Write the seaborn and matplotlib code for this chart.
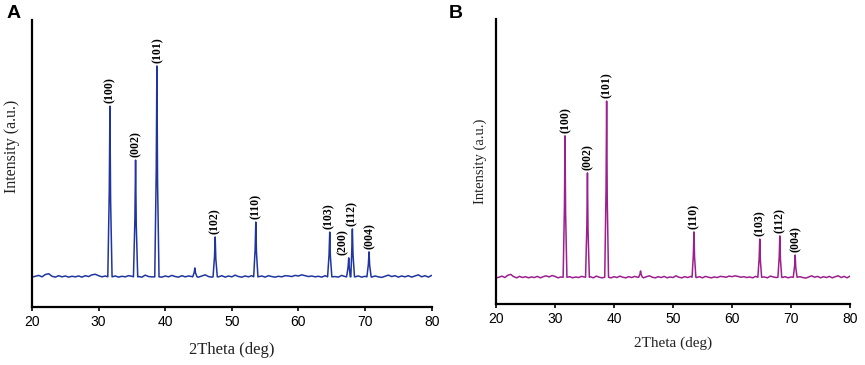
"""Two-panel XRD patterns (A: blue, B: purple) with indexed reflections."""
import matplotlib
matplotlib.use("Agg")
import matplotlib.pyplot as plt
import numpy as np
import pandas as pd
import seaborn as sns

# --- panel A -------------------------------------------------------------
base_a = [104, 107, 110, 105, 113, 116, 107, 104, 109, 105,
          108, 104, 107, 105, 108, 104, 109, 106, 112, 114,
          109, 105, 108, 106, 105, 108, 104, 107, 105, 109,
          107, 106, 106, 104, 111, 106, 105, 110, 106, 104,
          108, 105, 110, 106, 104, 109, 105, 108, 106, 106,
          104, 108, 112, 106, 104, 106, 105, 109, 104, 108,
          105, 111, 106, 104, 108, 105, 109, 106, 105, 108,
          104, 109, 106, 104, 107, 105, 109, 108, 106, 110,
          108, 112, 109, 106, 108, 105, 107, 104, 109, 106,
          106, 106, 104, 110, 106, 106, 106, 105, 108, 104,
          107, 106, 104, 108, 105, 103, 107, 111, 106, 109,
          104, 108, 105, 109, 104, 108, 112, 105, 109, 104,
          110]
peak_pos_a = [31.7, 35.55, 38.75, 44.45, 47.5, 53.6, 64.7, 67.55, 68.1, 70.6]
peak_height_a = [700, 512, 840, 136, 244, 296, 261, 171, 272, 192]
hkl_a = ["(100)", "(002)", "(101)", "(102)", "(110)", "(103)", "(200)", "(112)", "(004)"]
hkl_x_a = [31.65, 35.6, 38.85, 47.45, 53.6, 64.6, 66.6, 68.0, 70.7]
hkl_y_a = [700, 512, 840, 244, 296, 261, 171, 272, 192]

# --- panel B -------------------------------------------------------------
base_b = [92, 94, 98, 93, 101, 104, 96, 92, 97, 93,
          96, 92, 95, 93, 97, 92, 96, 99, 95, 100,
          97, 92, 95, 93, 94, 96, 92, 95, 93, 97,
          95, 94, 96, 92, 98, 94, 92, 100, 94, 92,
          96, 93, 98, 94, 92, 96, 93, 97, 94, 95,
          92, 96, 99, 94, 92, 96, 93, 97, 92, 95,
          93, 99, 94, 92, 96, 93, 97, 94, 93, 96,
          92, 97, 94, 92, 95, 93, 97, 96, 94, 98,
          96, 99, 97, 94, 96, 93, 95, 92, 97, 94,
          93, 95, 92, 98, 95, 93, 94, 93, 96, 92,
          95, 94, 92, 96, 93, 91, 95, 99, 94, 97,
          92, 96, 93, 97, 92, 96, 99, 93, 97, 92,
          98]
peak_pos_b = [31.7, 35.5, 38.75, 44.5, 53.55, 64.7, 68.1, 70.7]
peak_height_b = [590, 460, 712, 116, 253, 228, 239, 172]
hkl_b = ["(100)", "(002)", "(101)", "(110)", "(103)", "(112)", "(004)"]
hkl_x_b = [31.75, 35.55, 38.85, 53.55, 64.75, 68.1, 70.75]
hkl_y_b = [590, 460, 712, 253, 228, 239, 172]

two_theta_grid = np.arange(20.0, 80.25, 0.5)
xticks = [20, 30, 40, 50, 60, 70, 80]


def build_trace(base, pos, height, foot):
    x = two_theta_grid
    keep = np.ones(len(x), dtype=bool)
    for p in pos:
        keep &= np.abs(x - p) > 0.4
    xs = list(x[keep])
    ys = list(np.asarray(base)[keep])
    for p, h in zip(pos, height):
        xs += [p - 0.32, p - 0.1, p, p + 0.1, p + 0.32]
        ys += [foot, foot + 0.5 * (h - foot), h, foot + 0.45 * (h - foot), foot]
    return pd.DataFrame({"two_theta": xs, "intensity": ys})


def draw_panel(ax, df, color, labels, lx, ly, ylab_size, xlab_size, xlab_pad,
               ylab_x, ylab_y):
    sns.lineplot(data=df, x="two_theta", y="intensity", ax=ax, color=color,
                 linewidth=1.1, estimator=None, sort=True)
    for lab, x, y in zip(labels, lx, ly):
        ax.annotate(lab, (x, y), xytext=(0, 2), textcoords="offset points",
                    rotation=90, ha="center", va="bottom", fontsize=8.5,
                    fontweight="bold", family="Liberation Serif", color="black")
    ax.set_xlim(20, 80)
    ax.set_ylim(0, 1000)
    ax.set_xticks(xticks)
    ax.set_yticks([])
    ax.tick_params(axis="x", length=3, width=1.2, pad=2.5, labelsize=10,
                   colors="black")
    ax.set_xlabel("2Theta (deg)", family="Liberation Serif", fontsize=xlab_size,
                  labelpad=xlab_pad, color="#222222")
    ax.set_ylabel("Intensity (a.u.)", family="Liberation Serif",
                  fontsize=ylab_size, color="#222222")
    ax.yaxis.set_label_coords(ylab_x, ylab_y)
    for s in ("left", "bottom"):
        ax.spines[s].set_linewidth(1.6)
        ax.spines[s].set_color("black")
    sns.despine(ax=ax)


sns.set_style("ticks")
plt.rcParams["font.family"] = ["Liberation Sans", "DejaVu Sans"]

fig = plt.figure(figsize=(8.65, 3.65), dpi=100)
ax_a = fig.add_axes([0.037, 0.159, 0.462, 0.786])
ax_b = fig.add_axes([0.5734, 0.167, 0.4093, 0.781])

df_a = build_trace(base_a, peak_pos_a, peak_height_a, 105)
df_b = build_trace(base_b, peak_pos_b, peak_height_b, 94)

draw_panel(ax_a, df_a, "#1f35a0", hkl_a, hkl_x_a, hkl_y_a, 11.5, 12, 10,
           -0.03, 0.56)
draw_panel(ax_b, df_b, "#9c1f8e", hkl_b, hkl_x_b, hkl_y_b, 10.5, 11, 8,
           -0.025, 0.50)

fig.text(0.008, 0.985, "A", fontsize=14, fontweight="bold", va="top",
         ha="left", color="black")
fig.text(0.519, 0.985, "B", fontsize=14, fontweight="bold", va="top",
         ha="left", color="black")

fig.savefig("out.png", dpi=100)
